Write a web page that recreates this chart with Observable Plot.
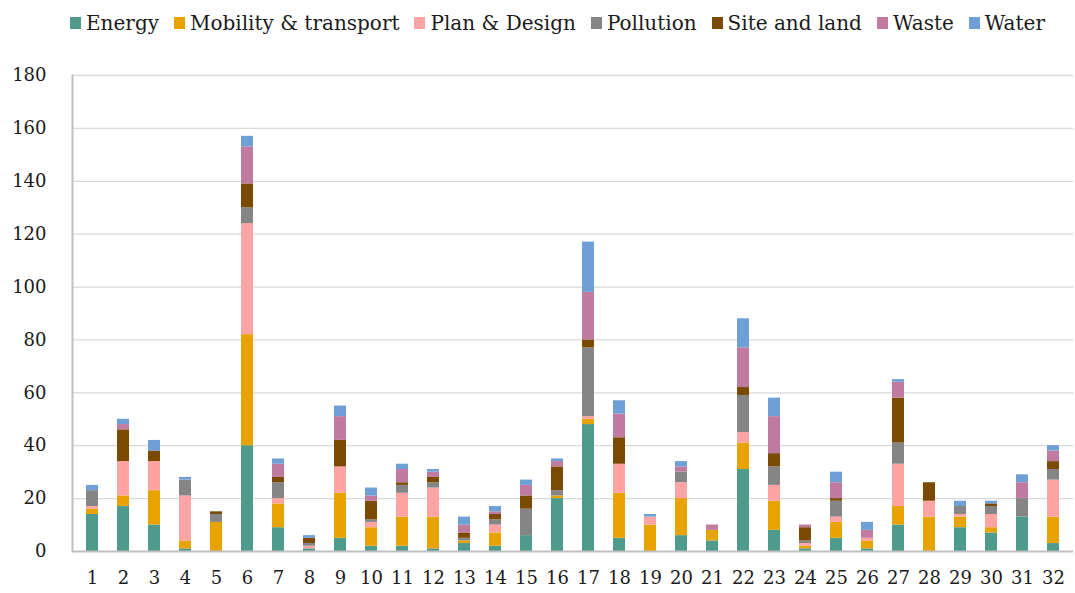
<!DOCTYPE html>
<html>
<head>
<meta charset="utf-8">
<script src="https://cdn.jsdelivr.net/npm/d3@7"></script>
<script src="https://cdn.jsdelivr.net/npm/@observablehq/plot@0.6"></script>
<style>
  body { margin: 0; background: #fff; font-family: "DejaVu Serif", serif; }
  #legend { height: 45px; display: flex; justify-content: center; align-items: center; gap: 15px; font-size: 20px; color: #1a1a1a; padding-left: 40px; box-sizing: border-box; }
  #legend .item { display: flex; align-items: center; gap: 5px; }
  #legend .sw { width: 11px; height: 12px; display: inline-block; }
</style>
</head>
<body>
<div id="legend"></div>
<div id="chart"></div>
<script>
const categories = ["Energy", "Mobility & transport", "Plan & Design", "Pollution", "Site and land", "Waste", "Water"];
const colors = ["#4e9a8b", "#e8a300", "#ffa3a3", "#858585", "#7a4a00", "#c27ba0", "#6e9fd7"];
const projects = Array.from({length: 32}, (_, i) => String(i + 1));

const energy    = [14,17,10, 1, 0,40, 9,1, 5,2, 2, 1,3,2, 6,20,48, 5, 0, 6,4,31, 8,1,5,1,10, 0,9,7,13, 3];
const mobility  = [ 2, 4,13, 3,11,42, 9,0,17,7,11,12,1,5, 0, 1, 2,17,10,14,4,10,11,1,6,3, 7,13,4,2, 0,10];
const plan      = [ 1,13,11,17, 0,42, 2,1,10,2, 9,11,0,3, 0, 0, 1,11, 3, 6,0, 4, 6,1,2,1,16, 6,1,5, 0,14];
const pollution = [ 6, 0, 0, 6, 3, 6, 6,1, 0,1, 3, 2,1,2,10, 2,26, 0, 0, 4,0,14, 7,1,6,0, 8, 0,3,3, 7, 4];
const site      = [ 0,12, 4, 0, 1, 9, 2,2,10,7, 1, 2,2,2, 5, 9, 3,10, 0, 0,0, 3, 5,5,1,0,17, 7,0,1, 0, 3];
const waste     = [ 0, 2, 0, 0, 0,14, 5,0, 9,2, 5, 2,3,1, 4, 2,18, 9, 0, 2,2,15,14,1,6,3, 6, 0,0,0, 6, 4];
const water     = [ 2, 2, 4, 1, 0, 4, 2,1, 4,3, 2, 1,3,2, 2, 1,19, 5, 1, 2,0,11, 7,0,4,3, 1, 0,2,1, 3, 2];
const yTicks = [0, 20, 40, 60, 80, 100, 120, 140, 160, 180];

const series = [energy, mobility, plan, pollution, site, waste, water];
const data = [];
projects.forEach((p, i) => {
  categories.forEach((c, k) => data.push({project: p, category: c, value: series[k][i]}));
});

const legend = document.getElementById("legend");
categories.forEach((c, k) => {
  const it = document.createElement("div");
  it.className = "item";
  it.innerHTML = `<span class="sw" style="background:${colors[k]}"></span><span>${c.replace("&", "&amp;")}</span>`;
  legend.appendChild(it);
});

const chart = Plot.plot({
  width: 1075,
  height: 548,
  marginTop: 30,
  marginBottom: 42,
  marginLeft: 72,
  marginRight: 2,
  style: {fontFamily: "DejaVu Serif, serif", fontSize: "18px", color: "#1a1a1a", background: "#fff"},
  x: {domain: projects, paddingInner: 0.6, paddingOuter: 0.3, label: null, tickSize: 0},
  y: {domain: [0, 180], ticks: yTicks, label: null, tickSize: 0},
  color: {domain: categories, range: colors},
  marks: [
    Plot.gridY(yTicks.filter(t => t > 0), {stroke: "#d9d9d9", strokeOpacity: 1, strokeWidth: 1.3}),
    Plot.barY(data, {x: "project", y: "value", fill: "category", order: categories}),
    Plot.ruleY([0], {stroke: "#bfbfbf", strokeWidth: 2}),
    Plot.frame({anchor: "left", stroke: "#bfbfbf", strokeWidth: 2}),
    Plot.axisY({ticks: yTicks, tickSize: 0, tickPadding: 26, fontSize: 18}),
    Plot.axisX({tickSize: 0, tickPadding: 20, fontSize: 18})
  ]
});
document.getElementById("chart").appendChild(chart);
</script>
</body>
</html>
